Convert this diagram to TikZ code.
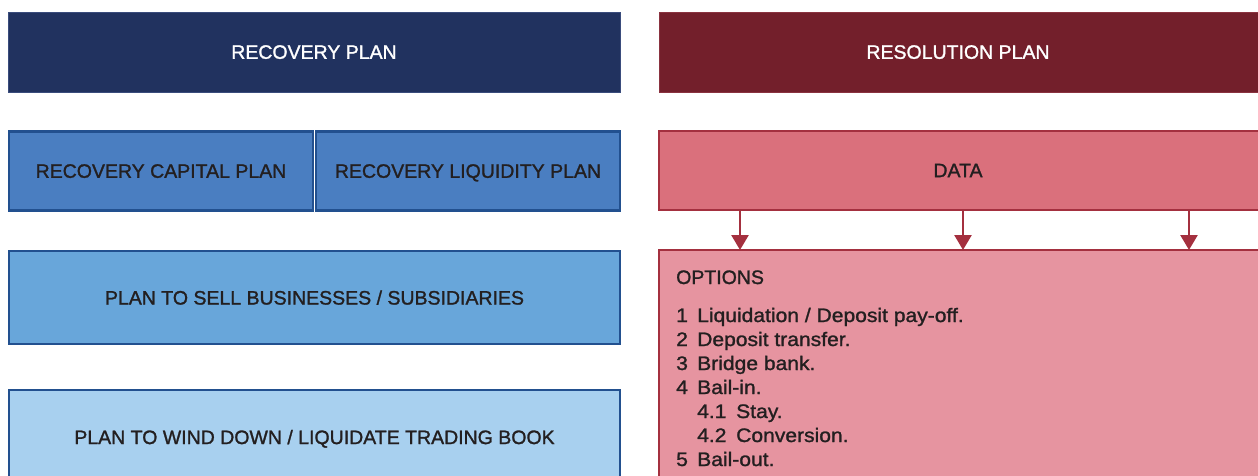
\documentclass[tikz,border=0pt]{standalone}
\usepackage{fontspec}
\setmainfont{Liberation Sans}[FakeBold=1.3]
\newfontfamily\listfont{Liberation Sans}[FakeBold=1.3, FakeStretch=1.08]
\usetikzlibrary{arrows.meta}

\definecolor{navy}{HTML}{21325F}
\definecolor{navyedge}{HTML}{3A4C7C}
\definecolor{maroon}{HTML}{731F2B}
\definecolor{maroonedge}{HTML}{8A3340}
\definecolor{midblue}{HTML}{4A7EC1}
\definecolor{lightblue}{HTML}{68A6DA}
\definecolor{paleblue}{HTML}{A8D0EF}
\definecolor{blueedge}{HTML}{22508F}
\definecolor{rose}{HTML}{DA707C}
\definecolor{pink}{HTML}{E694A0}
\definecolor{rededge}{HTML}{A4303F}
\definecolor{ink}{HTML}{231F20}

\tikzset{
  box/.style={rectangle, anchor=north west, inner sep=0pt, outer sep=0pt,
    font=\fontsize{19.5}{24}\selectfont, text depth=0pt},
  headbox/.style={box, text=white, line width=0.8pt},
  bluebox/.style={box, text=ink, draw=blueedge, line width=2.2pt},
  redbox/.style={box, text=ink, draw=rededge, line width=2.4pt},
  optline/.style={anchor=base west, inner sep=0pt, text=ink,
    font=\fontsize{19.5}{24}\selectfont},
  optitem/.style={optline, font=\listfont\fontsize{19.5}{24}\selectfont},
  feed/.style={draw=rededge, line width=2.6pt,
    -{Triangle[width=17pt,length=15pt]}}
}

\begin{document}
\begin{tikzpicture}[x=1pt,y=-1pt]
\useasboundingbox (0,0) rectangle (1258,476);
\clip (0,0) rectangle (1258,476);

% left column: recovery plan
\node[headbox, fill=navy, draw=navyedge, minimum width=612pt, minimum height=80pt]
  (rec) at (8,12) {RECOVERY PLAN};
\node[bluebox, fill=midblue, minimum width=304pt, minimum height=79pt]
  (cap) at (9,131.5) {RECOVERY CAPITAL PLAN};
\node[bluebox, fill=midblue, minimum width=304pt, minimum height=79pt]
  (liq) at (316,131.5) {RECOVERY LIQUIDITY PLAN};
\node[bluebox, fill=lightblue, minimum width=611pt, minimum height=93pt]
  (sell) at (9,251) {PLAN TO SELL BUSINESSES / SUBSIDIARIES};
\node[bluebox, fill=paleblue, minimum width=611pt, minimum height=94pt]
  (wind) at (9,390) {PLAN TO WIND DOWN / LIQUIDATE TRADING BOOK};

% right column: resolution plan
\node[headbox, fill=maroon, draw=maroonedge, minimum width=610pt, minimum height=80pt]
  (res) at (659,12) {\hspace*{-12pt}RESOLUTION PLAN};
\node[redbox, fill=rose, minimum width=610pt, minimum height=79pt]
  (data) at (659,131) {\hspace*{-12pt}DATA};
\node[redbox, fill=pink, minimum width=610pt, minimum height=240pt]
  (opts) at (659,250) {};

% arrows from the data box into the options box
\coordinate (f1) at (740,0);
\coordinate (f2) at (963,0);
\coordinate (f3) at (1189,0);
\foreach \f in {f1,f2,f3}
  \draw[feed] (\f |- data.south) -- (\f |- opts.north);

% list of resolution options
\node[optline] (ot)  at (676,284) {OPTIONS};
\node[optitem] (n1)  at (676,322) {1};
\node[optitem] (t1)  at (697,322) {Liquidation / Deposit pay-off.};
\node[optitem] (n2)  at (676,346) {2};
\node[optitem] (t2)  at (697,346) {Deposit transfer.};
\node[optitem] (n3)  at (676,370) {3};
\node[optitem] (t3)  at (697,370) {Bridge bank.};
\node[optitem] (n4)  at (676,394) {4};
\node[optitem] (t4)  at (697,394) {Bail-in.};
\node[optitem] (n41) at (697,418) {4.1};
\node[optitem] (t41) at (736,418) {Stay.};
\node[optitem] (n42) at (697,442) {4.2};
\node[optitem] (t42) at (736,442) {Conversion.};
\node[optitem] (n5)  at (676,466) {5};
\node[optitem] (t5)  at (697,466) {Bail-out.};
\end{tikzpicture}
\end{document}
